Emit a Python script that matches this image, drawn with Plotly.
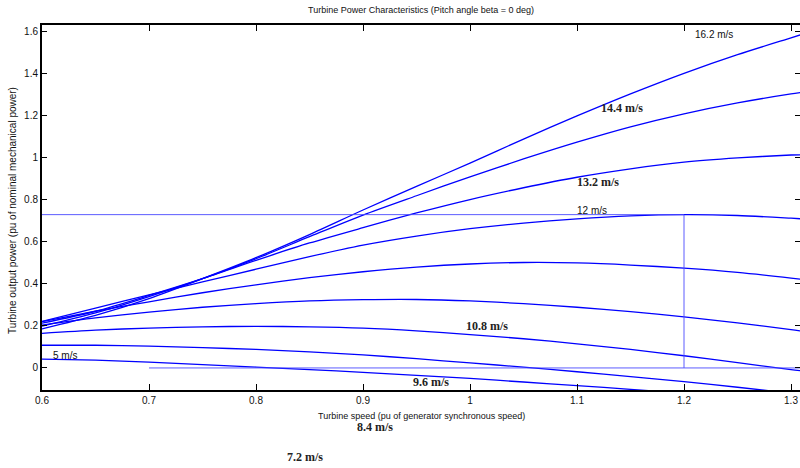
import plotly.graph_objects as go

# Turbine speed (pu of generator synchronous speed)
speed = [0.6, 0.65, 0.7, 0.75, 0.8, 0.85, 0.9, 0.95, 1.0, 1.05, 1.1, 1.15, 1.2, 1.25, 1.3, 1.31]

# Turbine output power (pu) for each wind speed
p_16_2 = [0.186, 0.25, 0.33, 0.425, 0.525, 0.635, 0.752, 0.865, 0.975, 1.09, 1.2, 1.305, 1.403, 1.492, 1.572, 1.588]
p_14_8 = [0.199, 0.262, 0.34, 0.425, 0.52, 0.625, 0.728, 0.82, 0.91, 0.995, 1.075, 1.148, 1.21, 1.262, 1.305, 1.312]
p_13_4 = [0.213, 0.27, 0.345, 0.425, 0.512, 0.595, 0.668, 0.738, 0.802, 0.858, 0.908, 0.948, 0.98, 1.0, 1.014, 1.015]
p_12_0 = [0.222, 0.285, 0.348, 0.41, 0.47, 0.53, 0.585, 0.628, 0.663, 0.69, 0.71, 0.724, 0.73, 0.726, 0.713, 0.71]
p_10_6 = [0.221, 0.27, 0.315, 0.358, 0.396, 0.43, 0.458, 0.48, 0.495, 0.502, 0.5, 0.49, 0.475, 0.455, 0.428, 0.422]
p_9_2 = [0.204, 0.238, 0.266, 0.289, 0.306, 0.319, 0.325, 0.326, 0.319, 0.306, 0.289, 0.268, 0.243, 0.215, 0.182, 0.176]
p_7_8 = [0.165, 0.18, 0.19, 0.196, 0.198, 0.196, 0.19, 0.177, 0.159, 0.139, 0.115, 0.088, 0.058, 0.025, -0.008, -0.014]
p_6_4 = [0.108, 0.108, 0.104, 0.097, 0.088, 0.077, 0.062, 0.044, 0.024, 0.004, -0.018, -0.041, -0.065, -0.092, -0.12, -0.125]
p_5_0 = [0.042, 0.037, 0.028, 0.016, 0.004, -0.008, -0.021, -0.035, -0.05, -0.067, -0.084, -0.102, -0.12, None, None, None]

series = [p_16_2, p_14_8, p_13_4, p_12_0, p_10_6, p_9_2, p_7_8, p_6_4, p_5_0]

# Maximum power point reference (12 m/s)
mpp_speed = 1.2
mpp_power = 0.73
zero_line_x = [0.7, 1.31]

x_ticks = [0.6, 0.7, 0.8, 0.9, 1.0, 1.1, 1.2, 1.3]
x_tick_text = ["0.6", "0.7", "0.8", "0.9", "1", "1.1", "1.2", "1.3"]
y_ticks = [0, 0.2, 0.4, 0.6, 0.8, 1.0, 1.2, 1.4, 1.6]
y_tick_text = ["0", "0.2", "0.4", "0.6", "0.8", "1", "1.2", "1.4", "1.6"]

# Curve labels (text, x, y) in axis units
labels_sans = [("16.2 m/s", 1.228, 1.586), ("12 m/s", 1.114, 0.748), ("5 m/s", 0.6215, 0.057)]
labels_serif = [("14.4 m/s", 1.142, 1.238), ("13.2 m/s", 1.120, 0.886), ("10.8 m/s", 1.016, 0.200),
                ("9.6 m/s", 0.9636, -0.067)]
# labels below the plot area (paper units)
labels_serif_below = [("8.4 m/s", 0.4393, -0.101), ("7.2 m/s", 0.347, -0.1836)]

BLUE = "#0000ff"
REF = "#4a4aff"
fig = go.Figure()

for s in series:
    fig.add_trace(go.Scatter(x=speed, y=s, mode="lines",
                             line=dict(color=BLUE, width=1.3, shape="spline", smoothing=0.8),
                             showlegend=False, hoverinfo="skip", connectgaps=False))

# reference lines
fig.add_trace(go.Scatter(x=[speed[0], mpp_speed], y=[mpp_power, mpp_power], mode="lines",
                         line=dict(color=REF, width=0.9), showlegend=False))
fig.add_trace(go.Scatter(x=[mpp_speed, mpp_speed], y=[0, mpp_power], mode="lines",
                         line=dict(color=REF, width=0.9), showlegend=False))
fig.add_trace(go.Scatter(x=zero_line_x, y=[0, 0], mode="lines",
                         line=dict(color=REF, width=0.9), showlegend=False))

# dummy trace for right-side ticks
fig.add_trace(go.Scatter(x=[None], y=[None], yaxis="y2", showlegend=False))

SANS = "Liberation Sans, Arial"
SERIF = "Liberation Serif, Times New Roman"

for t, xx, yy in labels_sans:
    fig.add_annotation(x=xx, y=yy, text=t, showarrow=False, xref="x", yref="y",
                       xanchor="center", yanchor="middle",
                       font=dict(family=SANS, size=10, color="#111"))
for t, xx, yy in labels_serif:
    fig.add_annotation(x=xx, y=yy, text="<b>" + t + "</b>", showarrow=False, xref="x", yref="y",
                       xanchor="center", yanchor="middle",
                       font=dict(family=SERIF, size=12, color="#222"))
for t, xx, yy in labels_serif_below:
    fig.add_annotation(x=xx, y=yy, text="<b>" + t + "</b>", showarrow=False, xref="paper", yref="paper",
                       xanchor="center", yanchor="middle",
                       font=dict(family=SERIF, size=12, color="#222"))

# axis titles
fig.add_annotation(x=-0.0396, y=0.493, xref="paper", yref="paper",
                   text="Turbine output power (pu of nominal mechanical power)",
                   textangle=-90, showarrow=False, xanchor="center", yanchor="middle",
                   font=dict(family=SANS, size=10, color="#111"))
fig.add_annotation(x=0.5, y=-0.0712, xref="paper", yref="paper",
                   text="Turbine speed (pu of generator synchronous speed)",
                   showarrow=False, xanchor="center", yanchor="middle",
                   font=dict(family=SANS, size=9, color="#111"))

yr = [-0.105, 1.633]
fig.update_layout(
    width=800, height=468,
    margin=dict(l=42, r=0, t=25, b=78),
    plot_bgcolor="white", paper_bgcolor="white",
    title=dict(text="Turbine Power Characteristics (Pitch angle beta = 0 deg)", x=0.5, xref="paper",
               y=1 - 10 / 468, yref="container", yanchor="middle", xanchor="center",
               font=dict(family=SANS, size=9, color="#111")),
    xaxis=dict(range=[0.6, 1.3084], tickvals=x_ticks, ticktext=x_tick_text,
               ticks="inside", ticklen=6, tickwidth=1, tickcolor="black",
               showline=True, linecolor="black", linewidth=2, mirror="ticks",
               showgrid=False, zeroline=False,
               tickfont=dict(family=SANS, size=10, color="#111")),
    yaxis=dict(range=yr, tickvals=y_ticks, ticktext=y_tick_text,
               ticks="inside", ticklen=5, tickwidth=1, tickcolor="black",
               showline=True, linecolor="black", linewidth=2, mirror=False,
               showgrid=False, zeroline=False,
               tickfont=dict(family=SANS, size=10, color="#111")),
    yaxis2=dict(range=yr, tickvals=y_ticks, overlaying="y", side="right", showticklabels=False,
                ticks="inside", ticklen=5, tickwidth=1, tickcolor="black", showline=False,
                showgrid=False, zeroline=False),
)

fig.write_html("out.html")
